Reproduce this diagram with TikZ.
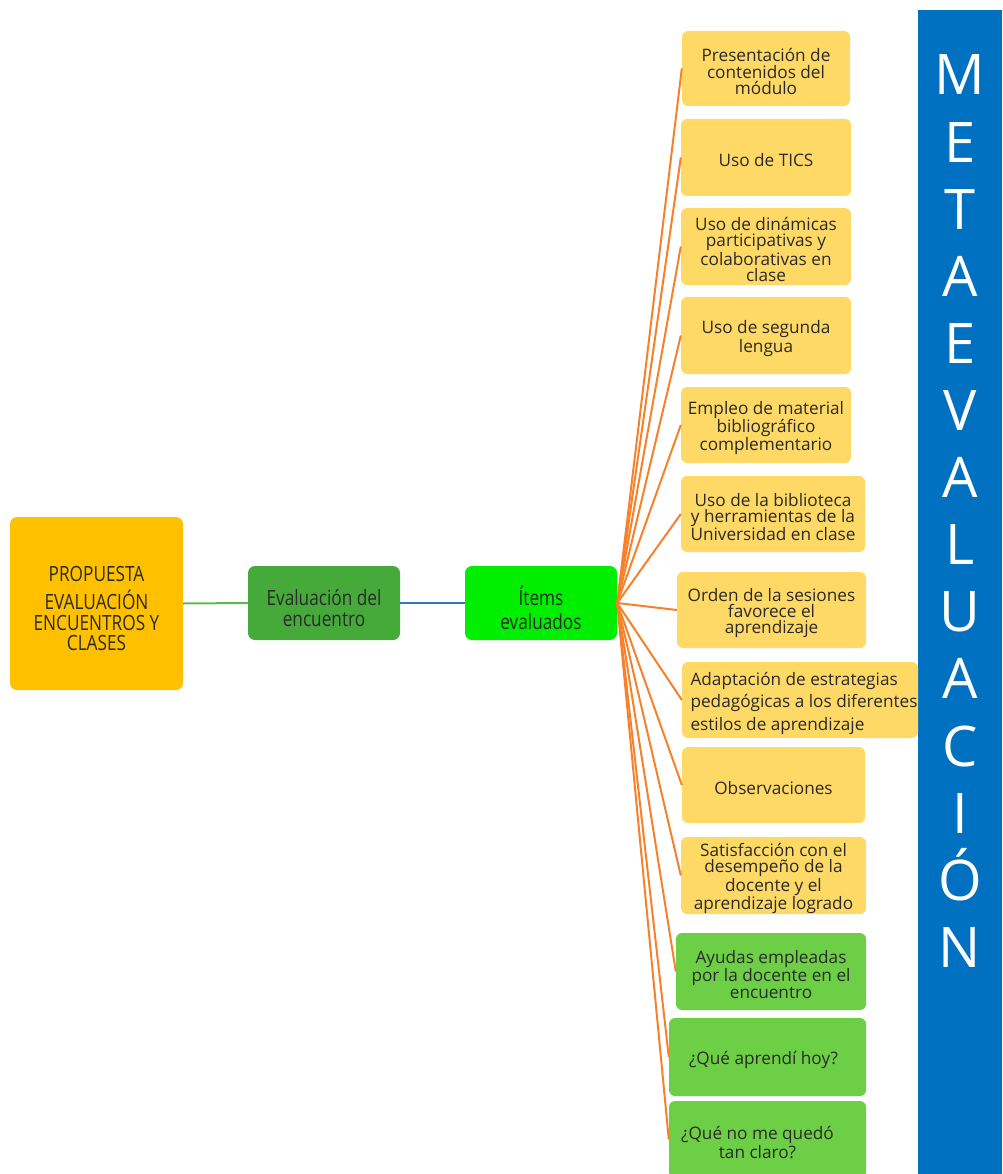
\documentclass[tikz,border=0pt]{standalone}
\usepackage{fontspec}
\setmainfont{Open Sans}
\newfontfamily\condfont{Open Sans}[FakeStretch=0.82]
\definecolor{ybox}{HTML}{FFD966}
\definecolor{gbox}{HTML}{6DCF45}
\definecolor{propc}{HTML}{FFC000}
\definecolor{evalc}{HTML}{46AA3B}
\definecolor{itemc}{HTML}{00EE00}
\definecolor{barblue}{HTML}{0070C0}
\definecolor{orangeln}{HTML}{F7812B}
\definecolor{greenln}{HTML}{5DB85A}
\definecolor{blueln}{HTML}{2F78C0}
\definecolor{txt}{HTML}{2A2A2A}
\tikzset{
  itembox/.style={fill=ybox, rounded corners=6pt, draw=none, inner sep=0pt},
  greenitem/.style={itembox, fill=gbox},
  itemtext/.style={text=txt, align=center, inner sep=0pt, yshift=-3pt,
    font=\fontsize{17.2}{16.3}\selectfont},
  widetext/.style={itemtext, align=left, font=\fontsize{17.2}{22.5}\selectfont},
  leftbox/.style={rounded corners=7pt, draw=none, inner sep=0pt},
  lefttext/.style={text=txt, align=center, inner sep=0pt, yshift=-5pt,
    font=\condfont\fontsize{21}{21.5}\selectfont},
  orangeline/.style={draw=orangeln, line width=2pt},
  bigletter/.style={text=white, anchor=base, inner sep=0pt, font=\fontsize{56}{60}\selectfont}
}
\begin{document}
\begin{tikzpicture}[x=1pt,y=-1pt]
\useasboundingbox (0,0) rectangle (1002,1174);
% blue bar
\fill[barblue] (918,10) rectangle (1002,1180);
\foreach \l/\i in {M/0,E/1,T/2,A/3,E/4,V/5,A/6,L/7,U/8,A/9,C/10,I/11,Ó/12,N/13}{
  \node[bigletter] (L\i) at (960,{95+67.1*\i}) {\l};
}
% left chain
\node[leftbox, fill=propc, minimum width=173pt, minimum height=173pt,
  label={[lefttext]center:{PROPUESTA\\[7pt] EVALUACIÓN\\[-1pt] ENCUENTROS Y\\[-1pt] CLASES}}]
  (prop) at (96.5,603.5) {};
\node[leftbox, fill=evalc, minimum width=152pt, minimum height=74pt,
  label={[lefttext]center:{Evaluación del\\ encuentro}}] (eval) at (324,603) {};
\node[leftbox, fill=itemc, minimum width=152pt, minimum height=74pt,
  label={[lefttext]center:{Ítems\\[2pt] evaluados}}] (items) at (541,603) {};
\draw[draw=greenln, line width=2pt] (prop.east) -- (eval.west);
\draw[draw=blueln, line width=2pt] (eval.east) -- (items.west);
% item boxes
\node[itembox, minimum width=168pt, minimum height=75pt,
  label={[itemtext]center:{Presentación de\\ contenidos del\\ módulo}}] (b1) at (766,68.5) {};
\node[itembox, minimum width=170pt, minimum height=77pt,
  label={[itemtext]center:{Uso de TICS}}] (b2) at (766,157.5) {};
\node[itembox, minimum width=170pt, minimum height=77pt,
  label={[itemtext]center:{Uso de dinámicas\\ participativas y\\ colaborativas en\\ clase}}] (b3) at (766,246.5) {};
\node[itembox, minimum width=170pt, minimum height=77pt,
  label={[itemtext]center:{Uso de segunda\\ lengua}}] (b4) at (766,335.5) {};
\node[itembox, minimum width=170pt, minimum height=76pt,
  label={[itemtext]center:{Empleo de material\\ bibliográfico\\ complementario}}] (b5) at (766,425) {};
\node[itembox, minimum width=184pt, minimum height=76pt,
  label={[itemtext]center:{Uso de la biblioteca\\ y herramientas de la\\ Universidad en clase}}] (b6) at (773,514) {};
\node[itembox, minimum width=189pt, minimum height=76pt,
  label={[itemtext]center:{Orden de la sesiones\\ favorece el\\ aprendizaje}}] (b7) at (771.5,610) {};
\node[itembox, minimum width=236pt, minimum height=76pt,
  label={[widetext, xshift=4pt]center:{Adaptación de estrategias\\ pedagógicas a los diferentes\\ estilos de aprendizaje}}] (b8) at (800,700) {};
\node[itembox, minimum width=183pt, minimum height=76pt,
  label={[itemtext]center:{Observaciones}}] (b9) at (773.5,785) {};
\node[itembox, minimum width=185pt, minimum height=77pt,
  label={[itemtext]center:{Satisfacción con el\\ desempeño de la\\ docente y el\\ aprendizaje logrado}}] (b10) at (773.5,875.5) {};
\node[greenitem, minimum width=190pt, minimum height=77pt,
  label={[itemtext]center:{Ayudas empleadas\\ por la docente en el\\ encuentro}}] (b11) at (771,971.5) {};
\node[greenitem, minimum width=197pt, minimum height=78pt,
  label={[itemtext, xshift=-4pt]center:{¿Qué aprendí hoy?}}] (b12) at (767.5,1057) {};
\node[greenitem, minimum width=197pt, minimum height=77pt,
  label={[itemtext, xshift=-10pt]center:{¿Qué no me quedó\\ tan claro?}}] (b13) at (767.5,1139.5) {};
% connectors
\foreach \b in {b1,b2,b3,b4,b5,b6,b7,b8,b9,b10,b11,b12,b13}{
  \draw[orangeline] (items.east) -- (\b.west);
}
\end{tikzpicture}
\end{document}
